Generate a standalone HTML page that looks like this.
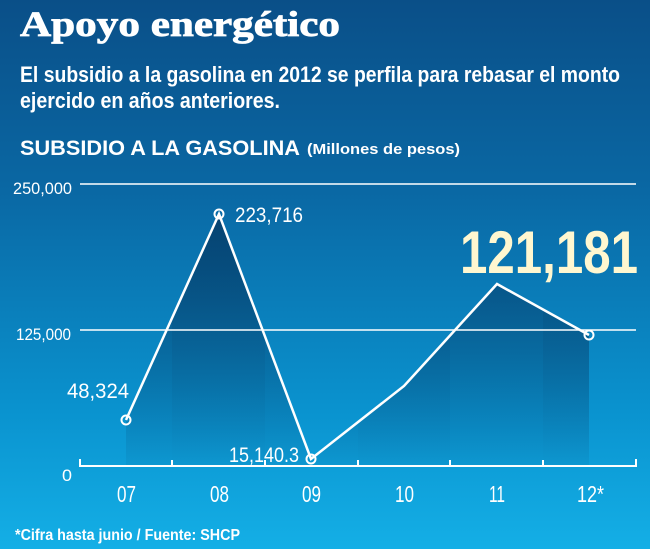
<!DOCTYPE html>
<html><head><meta charset="utf-8"><style>
html,body{margin:0;padding:0;width:650px;height:549px;overflow:hidden}
</style></head><body>
<svg width="650" height="549" xmlns="http://www.w3.org/2000/svg" font-family="'Liberation Sans Narrow','Liberation Sans',sans-serif">
<defs>
<linearGradient id="bg" x1="0" y1="0" x2="0" y2="1">
<stop offset="0" stop-color="#0a4f88"/>
<stop offset="0.35" stop-color="#0a68a4"/>
<stop offset="0.75" stop-color="#0a93cf"/>
<stop offset="1" stop-color="#14afe6"/>
</linearGradient>
<linearGradient id="ar" x1="0" y1="0" x2="0" y2="1">
<stop offset="0" stop-color="#053a66" stop-opacity="0.85"/>
<stop offset="1" stop-color="#053a66" stop-opacity="0.05"/>
</linearGradient>
<linearGradient id="col" x1="0" y1="0" x2="0" y2="1">
<stop offset="0" stop-color="#04365f" stop-opacity="0.25"/>
<stop offset="1" stop-color="#04365f" stop-opacity="0"/>
</linearGradient>
<clipPath id="cp"><polygon points="126,420 219,214 311,459 404,386 497,284 589,335 589,466 126,466"/></clipPath>
</defs>
<rect width="650" height="549" fill="url(#bg)"/>
<text x="20" y="36" font-family="'Liberation Serif',serif" font-weight="bold" font-size="36" fill="#fff" stroke="#fff" stroke-width="0.8" textLength="320" lengthAdjust="spacingAndGlyphs">Apoyo energético</text>
<text x="20" y="82" font-weight="bold" font-size="22" fill="#fff" textLength="600" lengthAdjust="spacingAndGlyphs">El subsidio a la gasolina en 2012 se perfila para rebasar el monto</text>
<text x="20" y="108" font-weight="bold" font-size="22" fill="#fff" textLength="260" lengthAdjust="spacingAndGlyphs">ejercido en años anteriores.</text>
<text x="20" y="155" font-weight="bold" font-size="21" fill="#fff" textLength="280" lengthAdjust="spacingAndGlyphs">SUBSIDIO A LA GASOLINA</text>
<text x="307" y="154" font-weight="bold" font-size="15" fill="#fff" textLength="153" lengthAdjust="spacingAndGlyphs">(Millones de pesos)</text>
<g clip-path="url(#cp)">
<rect x="80" y="180" width="560" height="290" fill="url(#ar)"/>
<rect x="172" y="180" width="93" height="290" fill="url(#col)"/>
<rect x="358" y="180" width="92" height="290" fill="url(#col)"/>
<rect x="543" y="180" width="93" height="290" fill="url(#col)"/>
</g>
<line x1="80" y1="184" x2="636" y2="184" stroke="#fff" stroke-width="1.5"/>
<line x1="80" y1="330" x2="636" y2="330" stroke="#fff" stroke-width="1.5"/>
<path d="M80,459V466H636V459 M172,466v-6 M265,466v-6 M358,466v-6 M450,466v-6 M543,466v-6" stroke="#fff" stroke-width="2" fill="none"/>
<g fill="#fff" font-size="17">
<text x="13" y="194" textLength="59" lengthAdjust="spacingAndGlyphs">250,000</text>
<text x="16" y="340" textLength="55" lengthAdjust="spacingAndGlyphs">125,000</text>
<text x="62" y="481" textLength="10" lengthAdjust="spacingAndGlyphs">0</text>
</g>
<polyline points="126,420 219,214 311,459 404,386 497,284 589,335" fill="none" stroke="#fff" stroke-width="2.5"/>
<g fill="none" stroke="#fff" stroke-width="2">
<circle cx="126" cy="420" r="4.5"/><circle cx="219" cy="214" r="4.5"/><circle cx="311" cy="459" r="4.5"/><circle cx="589" cy="335" r="4.5"/>
</g>
<g fill="#fff" font-size="21">
<text x="235" y="222" textLength="68" lengthAdjust="spacingAndGlyphs">223,716</text>
<text x="67" y="398" textLength="62" lengthAdjust="spacingAndGlyphs">48,324</text>
<text x="229" y="462" textLength="70" lengthAdjust="spacingAndGlyphs">15,140.3</text>
</g>
<text x="460" y="273" font-weight="bold" font-size="60" fill="#fff7d0" textLength="178" lengthAdjust="spacingAndGlyphs">121,181</text>
<g fill="#fff" font-size="23">
<text x="117" y="502" textLength="19" lengthAdjust="spacingAndGlyphs">07</text>
<text x="210" y="502" textLength="19" lengthAdjust="spacingAndGlyphs">08</text>
<text x="302" y="502" textLength="19" lengthAdjust="spacingAndGlyphs">09</text>
<text x="395" y="502" textLength="19" lengthAdjust="spacingAndGlyphs">10</text>
<text x="489" y="502" textLength="16" lengthAdjust="spacingAndGlyphs">11</text>
<text x="577" y="502" textLength="27" lengthAdjust="spacingAndGlyphs">12*</text>
</g>
<text x="15" y="540" font-weight="bold" font-size="16" fill="#fff" textLength="225" lengthAdjust="spacingAndGlyphs">*Cifra hasta junio / Fuente: SHCP</text>
</svg>
</body></html>
